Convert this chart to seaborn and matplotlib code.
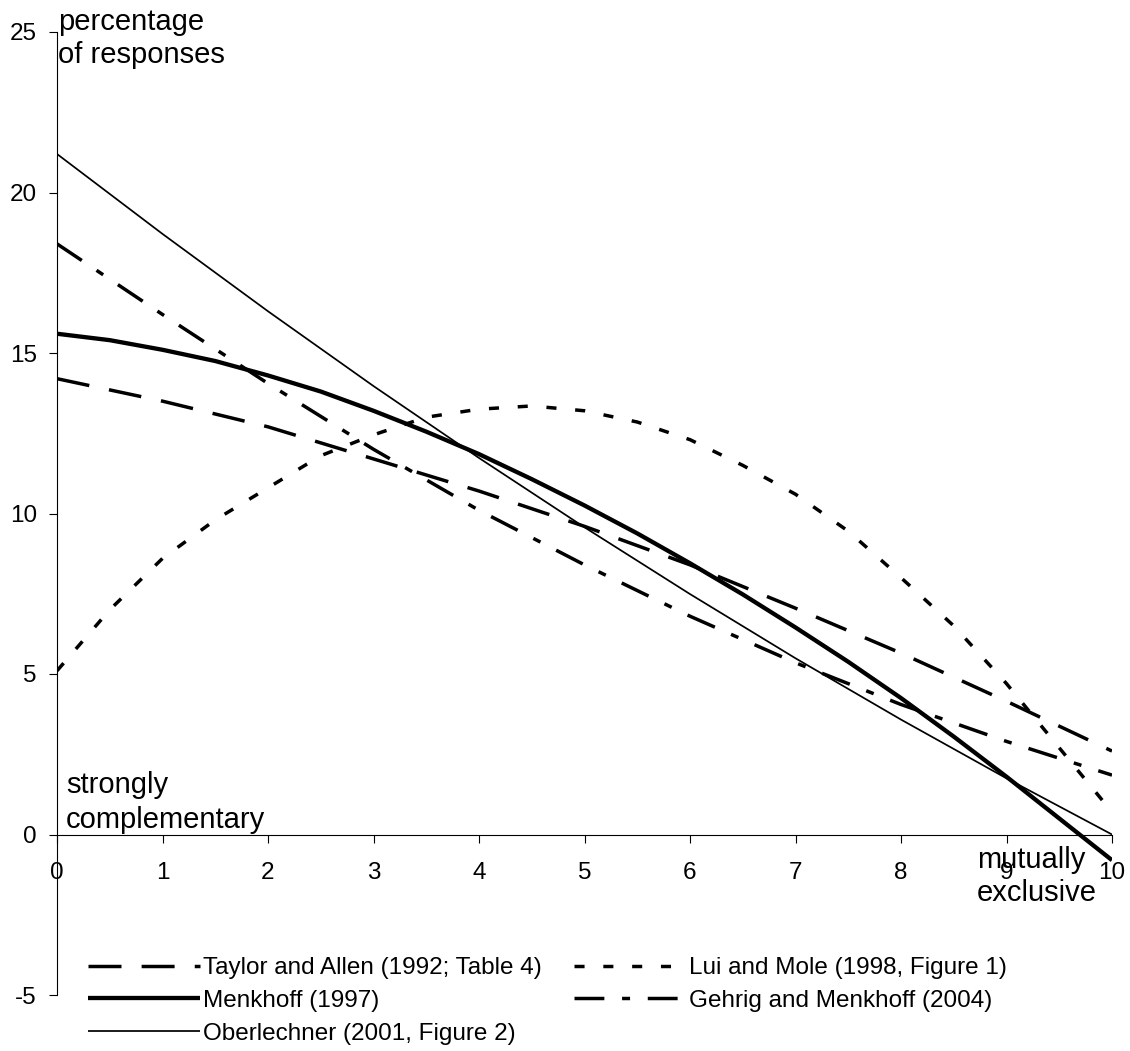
import matplotlib
matplotlib.use("Agg")
import matplotlib.pyplot as plt
import seaborn as sns
import pandas as pd

# ---------------- data ----------------
x_int = [0, 1, 2, 3, 4, 5, 6, 7, 8, 9, 10]
taylor = [14.2, 13.5, 12.7, 11.7, 10.7, 9.6, 8.4, 7.05, 5.65, 4.15, 2.6]
gehrig = [18.4, 16.2, 14.05, 12.0, 10.1, 8.4, 6.8, 5.35, 4.05, 2.9, 1.85]
oberlechner = [21.2, 18.71, 16.3, 13.97, 11.73, 9.57, 7.49, 5.49, 3.58, 1.75, 0.0]

x_half = [0, 0.5, 1, 1.5, 2, 2.5, 3, 3.5, 4, 4.5, 5, 5.5, 6, 6.5, 7, 7.5, 8, 8.5, 9, 9.5, 10]
lui = [5.1, 7.0, 8.6, 9.8, 10.8, 11.8, 12.45, 13.0, 13.25, 13.35, 13.2, 12.85, 12.3,
       11.5, 10.6, 9.45, 8.0, 6.5, 4.7, 2.7, 0.7]
menkhoff = [15.6, 15.4, 15.1, 14.75, 14.3, 13.8, 13.2, 12.55, 11.85, 11.07, 10.25, 9.38,
            8.45, 7.48, 6.45, 5.38, 4.25, 3.05, 1.8, 0.5, -0.8]

labels = {
    "taylor": "Taylor and Allen (1992; Table 4)",
    "lui": "Lui and Mole (1998, Figure 1)",
    "menkhoff": "Menkhoff (1997)",
    "gehrig": "Gehrig and Menkhoff (2004)",
    "oberlechner": "Oberlechner (2001, Figure 2)",
}
x_ticks = [0, 1, 2, 3, 4, 5, 6, 7, 8, 9, 10]
y_ticks = [-5, 0, 5, 10, 15, 20, 25]

# ---------------- style ----------------
sns.set_theme(style="white")
plt.rcParams["font.family"] = ["Liberation Sans", "DejaVu Sans"]
plt.rcParams["text.color"] = "black"
plt.rcParams["xtick.color"] = "black"
plt.rcParams["ytick.color"] = "black"
plt.rcParams["lines.solid_capstyle"] = "butt"
plt.rcParams["lines.dash_capstyle"] = "butt"

fig = plt.figure(figsize=(11.3, 10.51), dpi=100)
ax = fig.add_axes([57 / 1130, 56 / 1051, 1055 / 1130, 963 / 1051])

df_int = pd.DataFrame({"x": x_int, "taylor": taylor,
                       "gehrig": gehrig, "oberlechner": oberlechner})
df_half = pd.DataFrame({"x": x_half, "lui": lui, "menkhoff": menkhoff})

dash_lw = 2.5
sns.lineplot(data=df_int, x="x", y="taylor", ax=ax, color="black", lw=dash_lw,
             linestyle=(0, (9.5, 5.8)), label=labels["taylor"])
sns.lineplot(data=df_half, x="x", y="lui", ax=ax, color="black", lw=dash_lw,
             linestyle=(0, (2.9, 5.4)), label=labels["lui"])
sns.lineplot(data=df_half, x="x", y="menkhoff", ax=ax, color="black", lw=3.1,
             linestyle="-", label=labels["menkhoff"])
sns.lineplot(data=df_int, x="x", y="gehrig", ax=ax, color="black", lw=dash_lw,
             linestyle=(0, (8.6, 5.1, 2.3, 5.1)), label=labels["gehrig"])
sns.lineplot(data=df_int, x="x", y="oberlechner", ax=ax, color="black", lw=1.25,
             linestyle="-", label=labels["oberlechner"])

ax.set_xlim(0, 10)
ax.set_ylim(-5, 25)
ax.set_xlabel("")
ax.set_ylabel("")
ax.set_xticks(x_ticks)
ax.set_yticks(y_ticks)
ax.set_xticklabels([str(t) for t in x_ticks])
ax.set_yticklabels([str(t) for t in y_ticks])

for s in ["top", "right"]:
    ax.spines[s].set_visible(False)
ax.spines["left"].set_position(("data", 0))
ax.spines["bottom"].set_position(("data", 0))
for s in ["left", "bottom"]:
    ax.spines[s].set_color("black")
    ax.spines[s].set_linewidth(0.8)
    ax.spines[s].set_zorder(6)

ax.tick_params(axis="x", direction="out", length=6, width=0.8, color="black",
               pad=14, labelsize=17.5, labelcolor="black", bottom=True)
ax.tick_params(axis="y", direction="out", length=6, width=0.8, color="black",
               pad=8.5, labelsize=17.5, labelcolor="black", left=True)
ax.grid(False)

# ---------------- annotations ----------------
tfs = 21
ax.text(0.01, 25.07, "percentage", fontsize=tfs, ha="left", va="baseline")
ax.text(0.01, 24.04, "of responses", fontsize=tfs, ha="left", va="baseline")
ax.text(0.085, 1.29, "strongly", fontsize=tfs, ha="left", va="baseline")
ax.text(0.085, 0.2, "complementary", fontsize=tfs, ha="left", va="baseline")
ax.text(8.72, -1.04, "mutually", fontsize=tfs, ha="left", va="baseline", zorder=7)
ax.text(8.72, -2.07, "exclusive", fontsize=tfs, ha="left", va="baseline", zorder=7)

# ---------------- legend ----------------
h, l = ax.get_legend_handles_labels()
order = [labels["taylor"], labels["menkhoff"], labels["oberlechner"],
         labels["lui"], labels["gehrig"]]
hl = dict(zip(l, h))
ax.legend([hl[k] for k in order], order, ncol=2, frameon=False,
          loc="upper left", bbox_to_anchor=(88 / 1130, 1 - 957 / 1051),
          bbox_transform=fig.transFigure, borderpad=0, borderaxespad=0,
          handlelength=4.6, handletextpad=0.15, columnspacing=1.3,
          labelspacing=0.45, fontsize=17.5)

fig.savefig("out.png", dpi=100)
